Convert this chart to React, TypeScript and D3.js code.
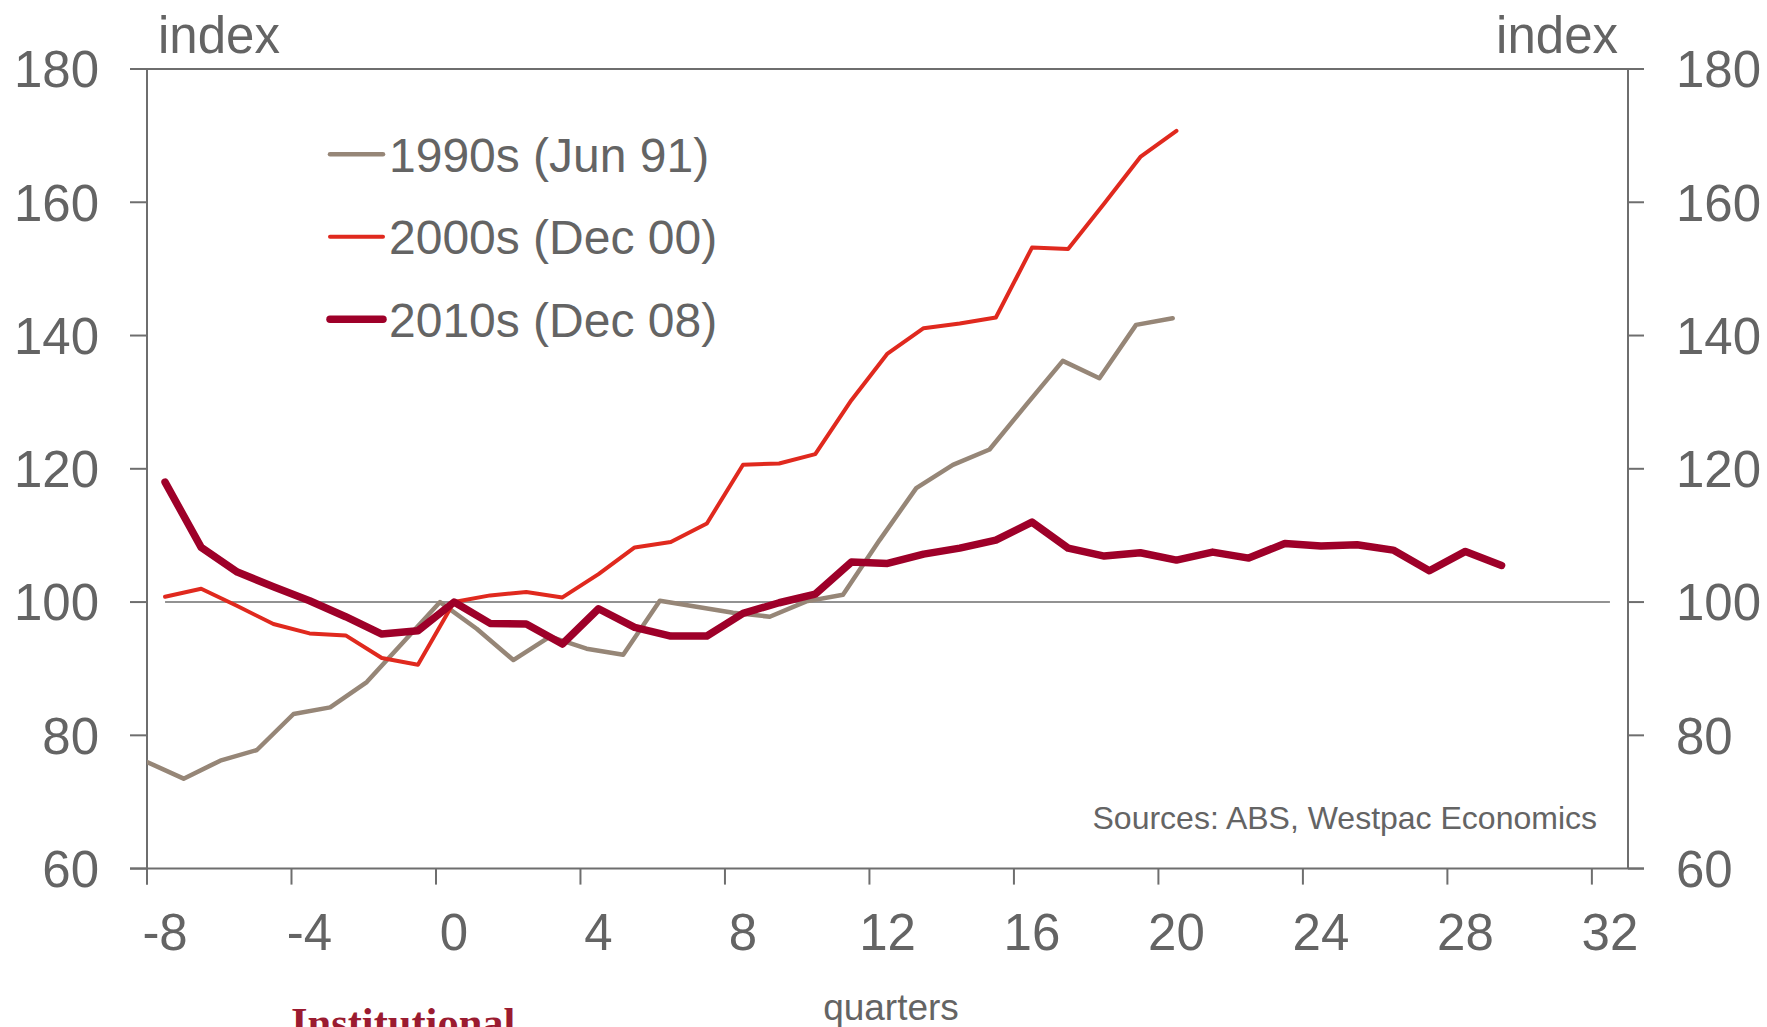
import React from "react";
import * as d3 from "d3";

const quarters1990s = [-8,-7,-6,-5,-4,-3,-2,-1,0,1,2,3,4,5,6,7,8,9,10,11,12,13,14,15,16,17,18,19,20];
const values1990s = [76.0,73.5,76.2,77.8,83.2,84.2,88.0,94.0,100.0,96.0,91.3,94.8,93.0,92.1,100.2,99.3,98.4,97.8,100.1,101.1,109.3,117.1,120.6,122.9,129.6,136.2,133.6,141.6,142.6];

const quarters2000s = [-8,-7,-6,-5,-4,-3,-2,-1,0,1,2,3,4,5,6,7,8,9,10,11,12,13,14,15,16,17,18,19,20];
const values2000s = [100.8,102.0,99.4,96.7,95.3,95.0,91.6,90.6,100.0,101.0,101.5,100.7,104.2,108.2,109.0,111.8,120.6,120.8,122.2,130.3,137.3,141.1,141.8,142.7,153.2,153.0,159.8,166.8,170.7];

const quarters2010s = [-8,-7,-6,-5,-4,-3,-2,-1,0,1,2,3,4,5,6,7,8,9,10,11,12,13,14,15,16,17,18,19,20,21,22,23,24,25,26,27,28,29];
const values2010s = [118.0,108.2,104.5,102.3,100.2,97.8,95.2,95.7,100.0,96.8,96.7,93.7,99.0,96.2,94.9,94.9,98.3,99.9,101.2,106.0,105.8,107.2,108.1,109.3,112.0,108.1,106.9,107.4,106.3,107.5,106.6,108.8,108.4,108.6,107.8,104.7,107.6,105.5];

const xTickLabels = [-8,-4,0,4,8,12,16,20,24,28,32];
const yTickValues = [60,80,100,120,140,160,180];
const baseline = { from: -8, to: 32, value: 100 };

const legendItems = [
  { label: "1990s (Jun 91)", color: "#968677", width: 4.5 },
  { label: "2000s (Dec 00)", color: "#E0291E", width: 4 },
  { label: "2010s (Dec 08)", color: "#9E0029", width: 7.5 },
];

const W = 1767, H = 1027;
const L = 147, R = 1628, T = 69, B = 868.6;
const TEXT = "#646464";
const AXIS = "#6E6E6E";
const FONT = "'Liberation Sans', Arial, sans-serif";

export default function App() {
  const x = d3.scaleLinear().domain([-8.5, 32.5]).range([L, R]);
  const x90 = d3.scaleLinear().domain([-8, 32.43]).range([L, R]);
  const y = d3.scaleLinear().domain([60, 180]).range([B, T]);

  const mk = (xs: d3.ScaleLinear<number, number>, qs: number[], vs: number[]) =>
    d3.line<number>().x((_, i) => xs(qs[i])).y((v) => y(v))(vs) || "";

  const xTicks = d3.range(-8.5, 32.5, 4);

  return (
    <div>
      <style>{`body{margin:0;}`}</style>
      <svg width={W} height={H} style={{ display: "block" }} fontFamily={FONT}>
        <rect width={W} height={H} fill="#fff" />
        {/* frame lines */}
        <line x1={L - 17} x2={R + 16} y1={T} y2={T} stroke={AXIS} strokeWidth={2} />
        <line x1={L - 17} x2={R + 16} y1={B} y2={B} stroke={AXIS} strokeWidth={2} />
        <line x1={L} x2={L} y1={T} y2={B + 16} stroke={AXIS} strokeWidth={2} />
        <line x1={R} x2={R} y1={T} y2={B} stroke={AXIS} strokeWidth={2} />
        {yTickValues.map((v) => (
          <g key={v}>
            <line x1={L - 17} x2={L} y1={y(v)} y2={y(v)} stroke={AXIS} strokeWidth={2} />
            <line x1={R} x2={R + 16} y1={y(v)} y2={y(v)} stroke={AXIS} strokeWidth={2} />
            <text x={99} y={y(v)} dy="0.36em" textAnchor="end" fontSize={51} fill={TEXT}>{v}</text>
            <text x={1676} y={y(v)} dy="0.36em" textAnchor="start" fontSize={51} fill={TEXT}>{v}</text>
          </g>
        ))}
        {xTicks.map((t) => (
          <line key={t} x1={x(t)} x2={x(t)} y1={B} y2={B + 16} stroke={AXIS} strokeWidth={2} />
        ))}
        {xTickLabels.map((t) => (
          <text key={t} x={x(t)} y={950} textAnchor="middle" fontSize={51} fill={TEXT}>{t}</text>
        ))}
        <text x={158} y={52.7} fontSize={51} fill={TEXT}>index</text>
        <text x={1618} y={52.7} textAnchor="end" fontSize={51} fill={TEXT}>index</text>
        <text x={891} y={1020} textAnchor="middle" fontSize={37} fill={TEXT}>quarters</text>
        <text x={1597} y={828.5} textAnchor="end" fontSize={32} fill={TEXT}>Sources: ABS, Westpac Economics</text>
        <text x={291} y={1037} fontSize={42.5} fontWeight="bold" fill="#9B1B30" fontFamily="'Liberation Serif', 'Times New Roman', serif">Institutional</text>

        {/* 100 baseline */}
        <line x1={x(baseline.from)} x2={x(baseline.to)} y1={y(baseline.value)} y2={y(baseline.value)} stroke={AXIS} strokeWidth={1.6} />

        {/* series */}
        <path d={mk(x90, quarters1990s, values1990s)} fill="none" stroke={legendItems[0].color} strokeWidth={legendItems[0].width} strokeLinejoin="round" strokeLinecap="round" clipPath="url(#plotclip)" />
        <path d={mk(x, quarters2000s, values2000s)} fill="none" stroke={legendItems[1].color} strokeWidth={legendItems[1].width} strokeLinejoin="round" strokeLinecap="round" />
        <path d={mk(x, quarters2010s, values2010s)} fill="none" stroke={legendItems[2].color} strokeWidth={legendItems[2].width} strokeLinejoin="round" strokeLinecap="round" />
        <defs>
          <clipPath id="plotclip">
            <rect x={L} y={T} width={R - L} height={B - T} />
          </clipPath>
        </defs>

        {/* legend */}
        {legendItems.map((it, i) => {
          const base = 171.7 + i * 82.5;
          const ly = base - 17.5;
          return (
            <g key={it.label}>
              <line x1={330} x2={383} y1={ly} y2={ly} stroke={it.color} strokeWidth={it.width} strokeLinecap="round" />
              <text x={389} y={base} fontSize={48} fill={TEXT}>{it.label}</text>
            </g>
          );
        })}
      </svg>
    </div>
  );
}
